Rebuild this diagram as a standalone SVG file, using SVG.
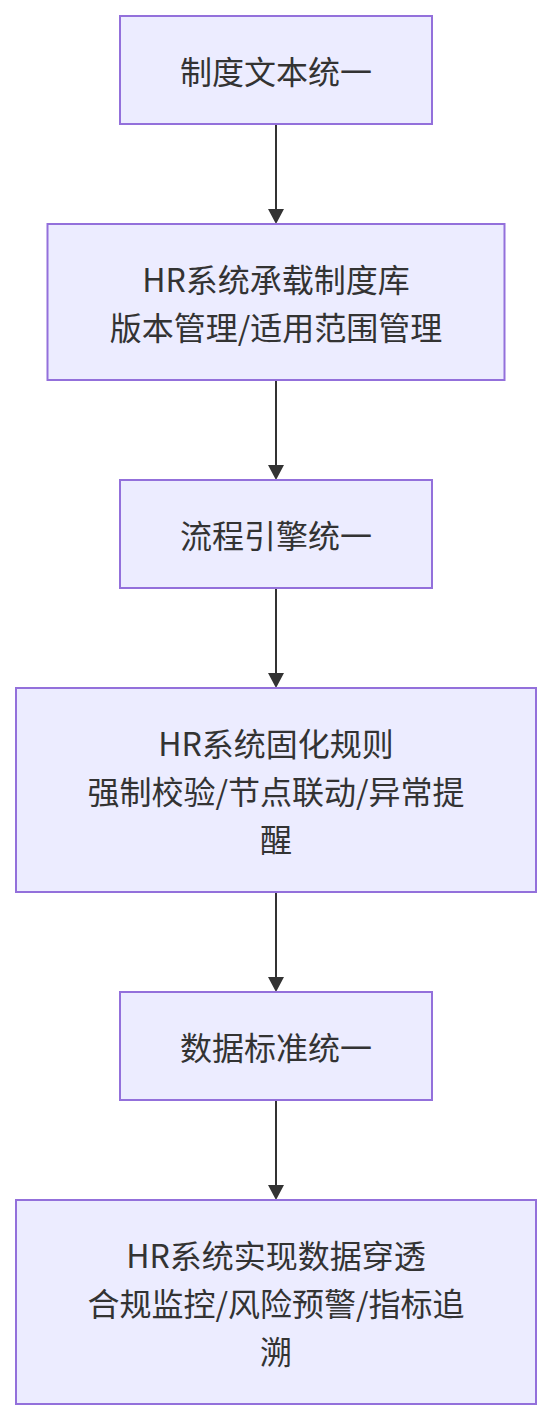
<svg xmlns="http://www.w3.org/2000/svg" width="552" height="1420" viewBox="0 0 552 1420">
<style>
.node rect{fill:#ECECFF;stroke:#9370DB;stroke-width:2}
.node text{font-family:"Noto Sans CJK SC","Noto Sans",sans-serif;font-size:32px;fill:#333333;text-anchor:middle;dominant-baseline:central}
.edge{stroke:#333333;stroke-width:2;fill:none}
</style>
<defs>
<marker id="arrow" viewBox="0 0 15 16" refX="0" refY="8" markerWidth="15" markerHeight="16" markerUnits="userSpaceOnUse" orient="auto">
<path d="M0,0 L15,8 L0,16 z" fill="#333333"/>
</marker>
</defs>
<rect width="552" height="1420" fill="#ffffff"/>
<g id="edges">
<line class="edge" x1="276" y1="124" x2="276" y2="209" marker-end="url(#arrow)"/>
<line class="edge" x1="276" y1="380" x2="276" y2="465" marker-end="url(#arrow)"/>
<line class="edge" x1="276" y1="588" x2="276" y2="673" marker-end="url(#arrow)"/>
<line class="edge" x1="276" y1="892" x2="276" y2="977" marker-end="url(#arrow)"/>
<line class="edge" x1="276" y1="1100" x2="276" y2="1185" marker-end="url(#arrow)"/>
</g>
<g id="n1" class="node">
<rect x="120" y="16" width="312" height="108"/>
<text x="276" y="70">制度文本统一</text>
</g>
<g id="n2" class="node">
<rect x="47.5" y="224" width="457" height="156"/>
<text x="276" y="278">HR系统承载制度库</text>
<text x="276" y="326">版本管理/适用范围管理</text>
</g>
<g id="n3" class="node">
<rect x="120" y="480" width="312" height="108"/>
<text x="276" y="534">流程引擎统一</text>
</g>
<g id="n4" class="node">
<rect x="16" y="688" width="520" height="204"/>
<text x="276" y="742">HR系统固化规则</text>
<text x="276" y="790">强制校验/节点联动/异常提</text>
<text x="276" y="838">醒</text>
</g>
<g id="n5" class="node">
<rect x="120" y="992" width="312" height="108"/>
<text x="276" y="1046">数据标准统一</text>
</g>
<g id="n6" class="node">
<rect x="16" y="1200" width="520" height="204"/>
<text x="276" y="1254">HR系统实现数据穿透</text>
<text x="276" y="1302">合规监控/风险预警/指标追</text>
<text x="276" y="1350">溯</text>
</g>
</svg>
